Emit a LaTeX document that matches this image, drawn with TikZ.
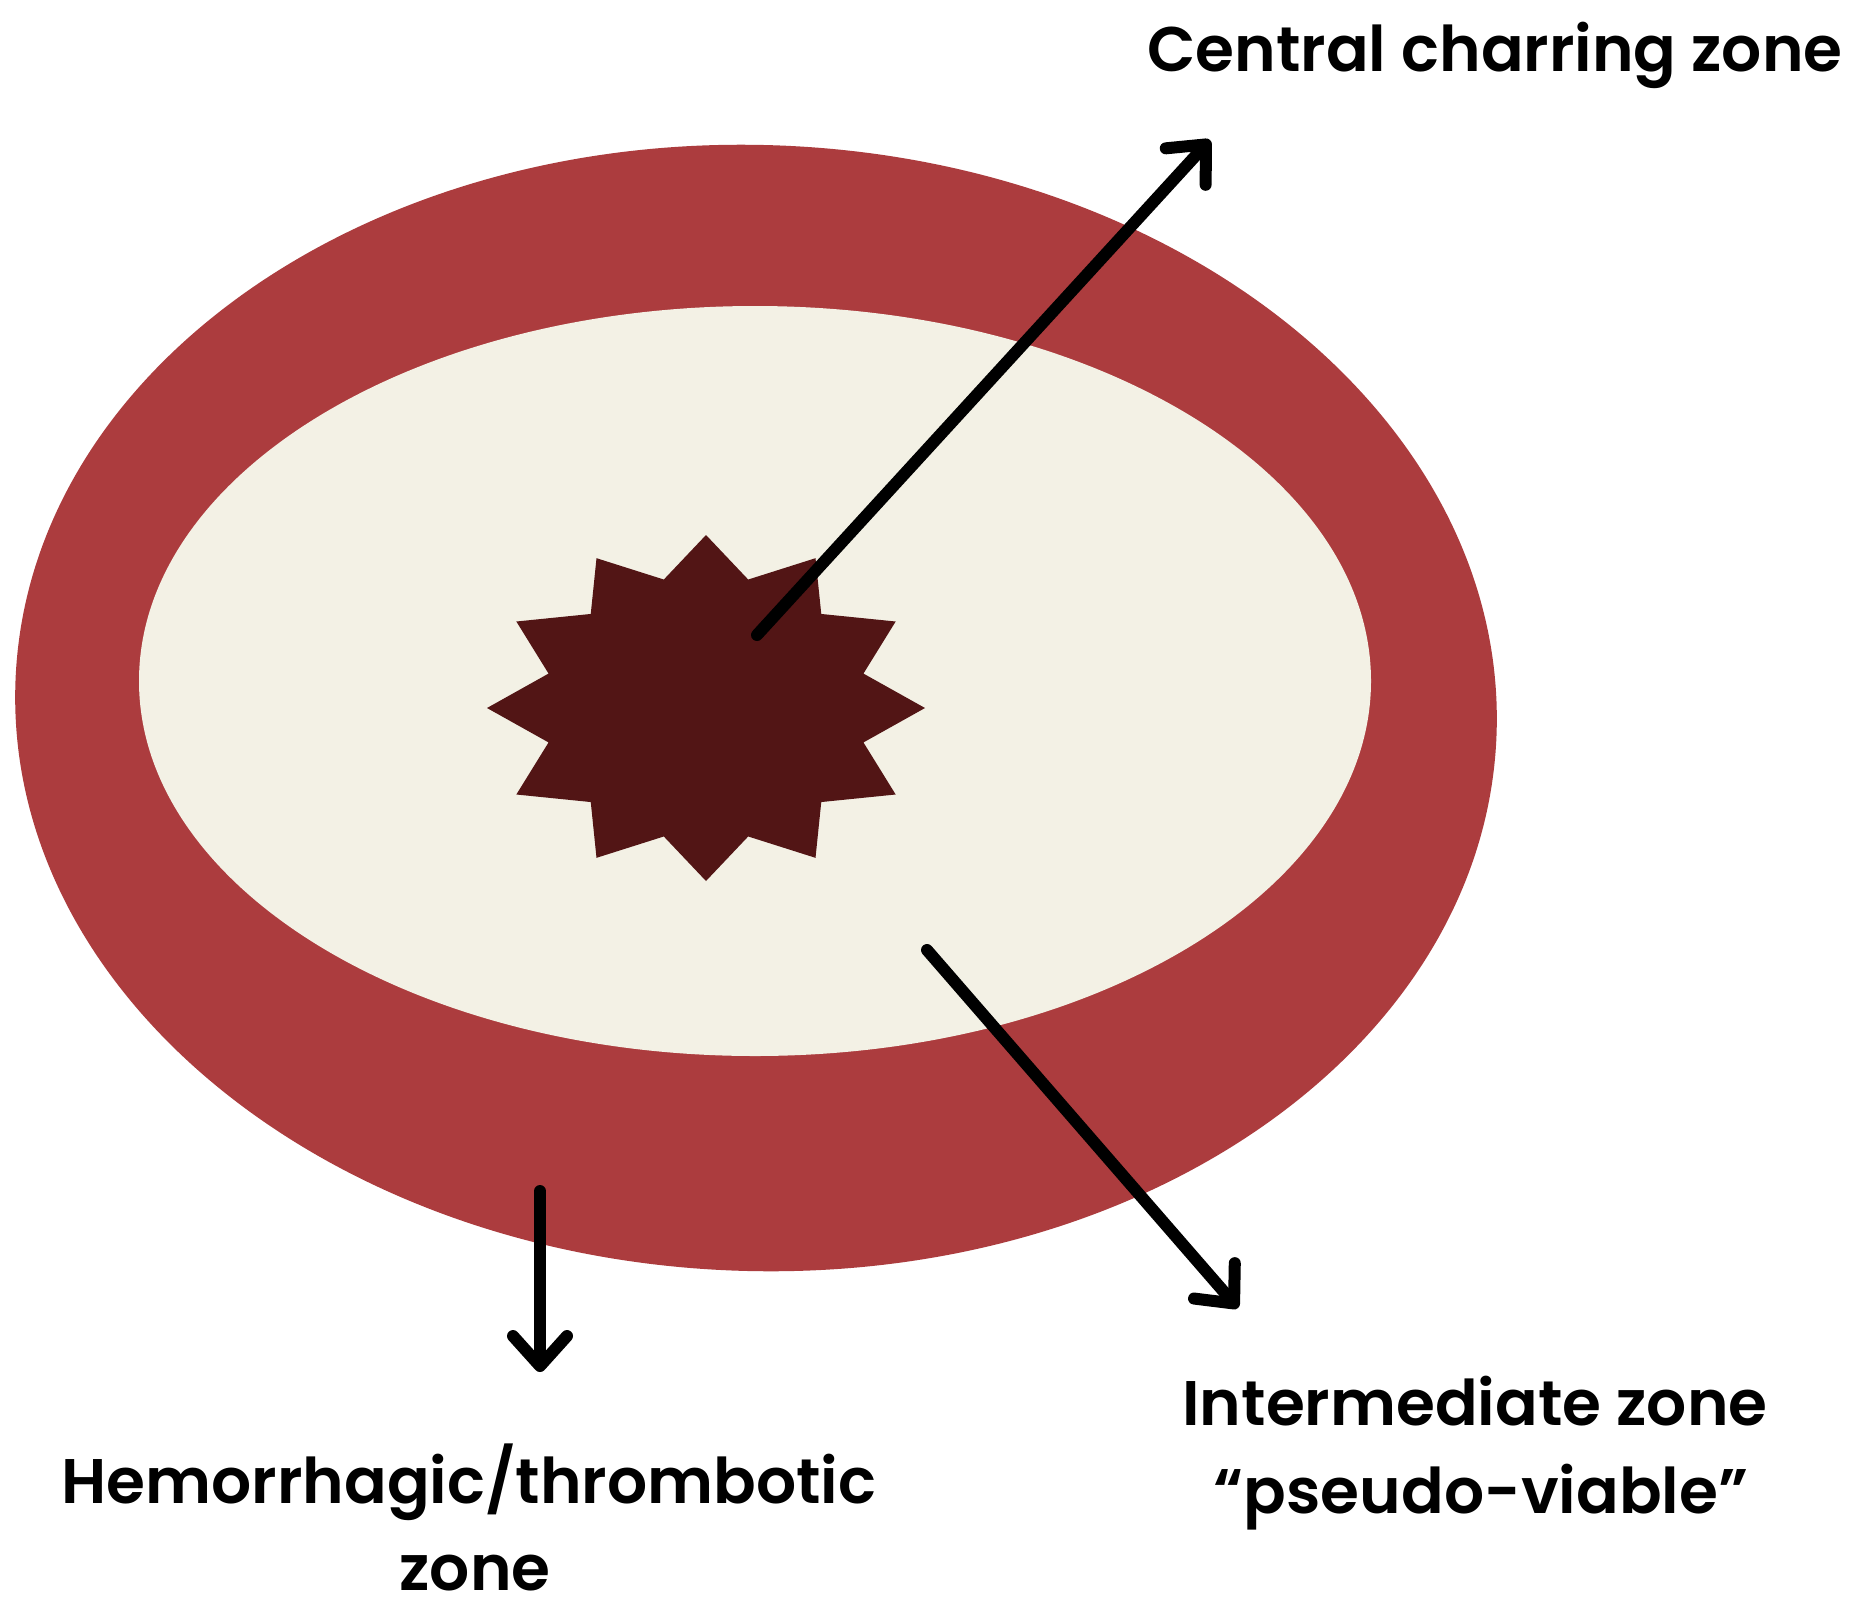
\documentclass[tikz,border=0pt]{standalone}
\usepackage{fontspec}
\setmainfont{Poppins}[BoldFont={Poppins SemiBold}]
\usetikzlibrary{arrows.meta}
\definecolor{ringred}{HTML}{AC3C3E}
\definecolor{cream}{HTML}{F3F1E5}
\definecolor{charcol}{HTML}{521515}
\begin{document}
\begin{tikzpicture}[x=0.5pt,y=-0.5pt,
  arr/.style={line width=6pt, line cap=round,
    -{Straight Barb[length=15pt,width=27pt,line cap=round,line join=round]}},
  lbl/.style={font=\fontsize{31.5}{40}\selectfont\bfseries, inner sep=0pt, anchor=base}]
\useasboundingbox[fill=white] (0,0) rectangle (1850,1611);
% outer hemorrhagic ring
\begin{scope}[shift={(756,708)}, rotate=-2]
  \fill[ringred] (0,0) ellipse [x radius=370.5pt, y radius=281.5pt];
\end{scope}
% intermediate zone
\fill[cream] (755,681) ellipse [x radius=308pt, y radius=187.5pt];
% central charring star
\fill[charcol] plot[samples at={0,1,...,23}, variable=\k]
  ({706+ifthenelse(isodd(\k),163,219)*sin(15*\k)},
   {708-ifthenelse(isodd(\k),133,173)*cos(15*\k)}) -- cycle;
\coordinate (star) at (706,708);
% labels
\node[lbl] (central) at (1495,72) {Central charring zone};
\node[lbl] (hemo1) at (469,1503) {Hemorrhagic/thrombotic};
\node[lbl] (hemo2) at (475,1590) {zone};
\node[lbl] (inter1) at (1475,1425) {Intermediate zone};
\node[lbl] (inter2) at (1481,1513) {“pseudo-viable”};
% arrow end points
\coordinate (cS) at (757,635);
\coordinate (cT) at (1210,140);
\coordinate (iS) at (927,950);
\coordinate (iT) at (1238,1308);
\coordinate (hS) at (540,1191);
\coordinate (hT) at (540,1372);
\draw[arr] (cS) -- (cT);
\draw[arr] (iS) -- (iT);
\draw[arr] (hS) -- (hT);
\end{tikzpicture}
\end{document}
